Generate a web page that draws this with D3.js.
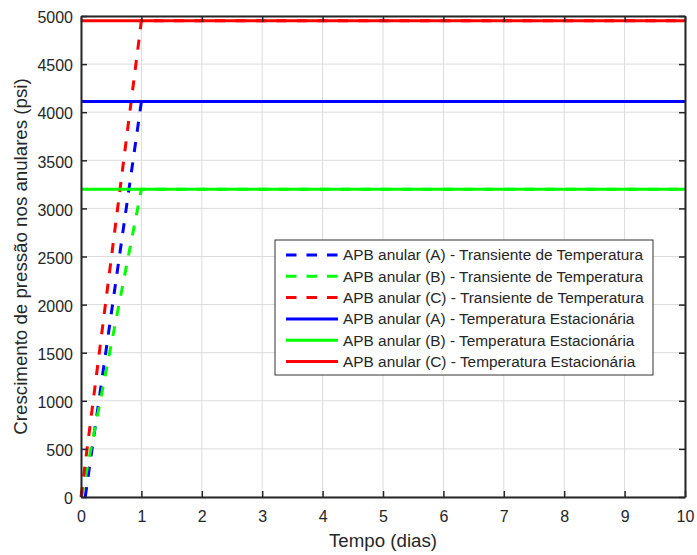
<!DOCTYPE html>
<html>
<head>
<meta charset="utf-8">
<script src="https://cdn.jsdelivr.net/npm/d3@7"></script>
<style>
  html, body { margin: 0; padding: 0; background: #fff; }
  svg { display: block; font-family: "Liberation Sans", Arial, Helvetica, sans-serif; }
</style>
</head>
<body>
<svg id="chart" width="697" height="555"></svg>
<script>
// Annular pressure build-up (APB) in annuli A, B and C
const annuli = ["A", "B", "C"];
const colors = ["#0000ff", "#00ff00", "#ff0000"];

// Transient temperature: pressure rises during the first day, then holds
const transientDays = [
  [0.07, 1, 10],
  [0.01, 1, 10],
  [0.0, 1, 10]
];
const transientPsi = [
  [0, 4110, 4110],
  [0, 3200, 3200],
  [0, 4950, 4950]
];

// Steady-state temperature: constant pressure over the whole period
const steadyDays = [0, 10];
const steadyPsi = [4110, 3200, 4950];

const xTicks = [0, 1, 2, 3, 4, 5, 6, 7, 8, 9, 10];
const yTicks = [0, 500, 1000, 1500, 2000, 2500, 3000, 3500, 4000, 4500, 5000];

const transientLabels = annuli.map(a => `APB anular (${a}) - Transiente de Temperatura`);
const steadyLabels = annuli.map(a => `APB anular (${a}) - Temperatura Estacionária`);

const svg = d3.select("#chart");
const margin = { left: 81, right: 12, top: 16, bottom: 58 };
const W = 697, H = 555;
const plotW = W - margin.left - margin.right;
const plotH = H - margin.top - margin.bottom;

const x = d3.scaleLinear().domain([0, 10]).range([margin.left, margin.left + plotW]);
const y = d3.scaleLinear().domain([0, 5000]).range([margin.top + plotH, margin.top]);

const axisColor = "#262626";

// grid
const grid = svg.append("g");
grid.selectAll(".gx").data(xTicks).join("line")
  .attr("x1", d => x(d)).attr("x2", d => x(d))
  .attr("y1", y(0)).attr("y2", y(5000))
  .attr("stroke", "#dcdcdc").attr("stroke-width", 1);
grid.selectAll(".gy").data(yTicks).join("line")
  .attr("x1", x(0)).attr("x2", x(10))
  .attr("y1", d => y(d)).attr("y2", d => y(d))
  .attr("stroke", "#dcdcdc").attr("stroke-width", 1);

// series
const line = d3.line().x(d => x(d[0])).y(d => y(d[1]));
const series = svg.append("g");
annuli.forEach((a, i) => {
  const pts = transientDays[i].map((d, j) => [d, transientPsi[i][j]]);
  series.append("path").datum(pts)
    .attr("d", line).attr("fill", "none")
    .attr("stroke", colors[i]).attr("stroke-width", 3)
    .attr("stroke-dasharray", "10,10.5");
});
annuli.forEach((a, i) => {
  const pts = steadyDays.map(d => [d, steadyPsi[i]]);
  series.append("path").datum(pts)
    .attr("d", line).attr("fill", "none")
    .attr("stroke", colors[i]).attr("stroke-width", 3);
});

// axes (ticks inward on all four sides)
const tickLen = 6;
const fmt = d3.format("d");
const axBottom = svg.append("g").attr("transform", `translate(0,${y(0)})`)
  .call(d3.axisBottom(x).tickValues(xTicks).tickFormat(fmt).tickSizeInner(-tickLen).tickSizeOuter(0).tickPadding(14));
const axLeft = svg.append("g").attr("transform", `translate(${x(0)},0)`)
  .call(d3.axisLeft(y).tickValues(yTicks).tickFormat(fmt).tickSizeInner(-tickLen).tickSizeOuter(0).tickPadding(8));
const axTop = svg.append("g").attr("transform", `translate(0,${y(5000)})`)
  .call(d3.axisTop(x).tickValues(xTicks).tickFormat("").tickSizeInner(-tickLen).tickSizeOuter(0));
const axRight = svg.append("g").attr("transform", `translate(${x(10)},0)`)
  .call(d3.axisRight(y).tickValues(yTicks).tickFormat("").tickSizeInner(-tickLen).tickSizeOuter(0));
[axBottom, axLeft, axTop, axRight].forEach(g => {
  g.select(".domain").attr("stroke", axisColor).attr("stroke-width", 2);
  g.selectAll(".tick line").attr("stroke", axisColor).attr("stroke-width", 1.5);
  g.selectAll(".tick text").attr("fill", axisColor).attr("font-size", 16)
    .attr("font-family", "Liberation Sans, Arial, sans-serif");
});
axLeft.selectAll(".tick text").attr("dy", "0.42em");

// axis titles
svg.append("text")
  .attr("x", x(5)).attr("y", 547)
  .attr("text-anchor", "middle").attr("font-size", 18.7).attr("fill", axisColor)
  .text("Tempo (dias)");
svg.append("text")
  .attr("transform", `translate(27,${y(2500)}) rotate(-90)`)
  .attr("text-anchor", "middle").attr("font-size", 18.7).attr("fill", axisColor)
  .text("Crescimento de pressão nos anulares (psi)");

// legend
const lg = svg.append("g").attr("transform", "translate(275,240)");
lg.append("rect").attr("width", 378).attr("height", 135)
  .attr("fill", "#fff").attr("stroke", "#333").attr("stroke-width", 1);
const entries = [
  ...annuli.map((a, i) => ({ label: transientLabels[i], color: colors[i], dash: "10.5,10" })),
  ...annuli.map((a, i) => ({ label: steadyLabels[i], color: colors[i], dash: null }))
];
entries.forEach((e, k) => {
  const cy = 15 + k * 21.3;
  lg.append("line").attr("x1", 11).attr("x2", 63).attr("y1", cy).attr("y2", cy)
    .attr("stroke", e.color).attr("stroke-width", 3)
    .attr("stroke-dasharray", e.dash);
  lg.append("text").attr("x", 68).attr("y", cy).attr("dy", "0.35em")
    .attr("font-size", 15.4).attr("fill", axisColor).text(e.label);
});
</script>
</body>
</html>
